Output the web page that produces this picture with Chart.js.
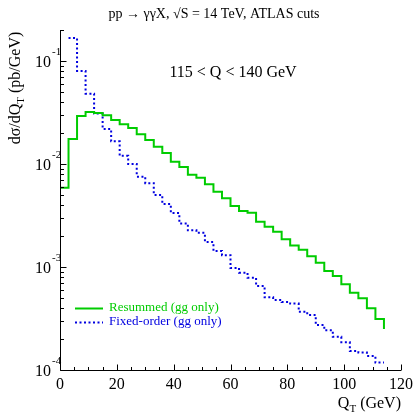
<!DOCTYPE html>
<html>
<head>
<meta charset="utf-8">
<script src="https://cdn.jsdelivr.net/npm/chart.js@4.4.1/dist/chart.umd.min.js"></script>
<style>
  html, body { margin: 0; padding: 0; background: #fff; }
  #wrap { width: 415px; height: 413px; position: relative; }
</style>
</head>
<body>
<div id="wrap"><canvas id="c" width="415" height="413"></canvas></div>
<script>
// ---- data (bin lower edges in GeV; last entry closes the histogram) ----
const binEdges = [0,3,6,9,12,15,18,21,24,27,30,33,36,39,42,45,48,51,54,57,60,63,66,69,72,75,78,81,84,87,90,93,96,99,102,105,108,111,114];
const resummed = [5.89e-3,0.0175,0.0292,0.0320,0.0313,0.0297,0.0267,0.0243,0.0224,0.0194,0.0171,0.0147,0.0128,0.0105,0.00935,0.00787,0.00736,0.00635,0.00538,0.00465,0.00391,0.00350,0.00337,0.00275,0.00246,0.00220,0.00186,0.00162,0.00147,0.00127,0.00110,0.000914,0.000818,0.000679,0.000562,0.000497,0.000397,0.000313,0.000250];
const fixedOrder = [null,0.167,0.080,0.0482,0.0310,0.0219,0.0166,0.0120,0.0100,0.00754,0.00650,0.00500,0.00409,0.00334,0.00265,0.00227,0.00215,0.00175,0.00143,0.00130,0.000977,0.000881,0.000787,0.000655,0.000508,0.000479,0.000457,0.000441,0.000368,0.000342,0.000273,0.000243,0.000210,0.000186,0.000153,0.000148,0.000137,0.000118,0.000118];
const xTickLabels = [0,20,40,60,80,100,120];
const yDecades = [-1,-2,-3,-4];
const seriesNames = ['Resummed (gg only)', 'Fixed-order (gg only)'];
const titleText = 'pp \u2192 \u03b3\u03b3X, \u221aS = 14 TeV, ATLAS cuts';
const rangeText = '115 < Q < 140 GeV';

const GREEN = '#00cc00';
const BLUE = '#0000e0';
const FONT = '"Liberation Serif", "DejaVu Serif", serif';

function toPoints(edges, vals) {
  const pts = [];
  edges.forEach((x, i) => { if (vals[i] !== null) pts.push({x: x, y: vals[i]}); });
  return pts;
}

// histogram: value of bin i holds from edge i to edge i+1, then jumps
function toSteps(edges, vals) {
  const pts = [];
  for (let i = 0; i < edges.length; i++) {
    if (vals[i] === null) continue;
    pts.push({x: edges[i], y: vals[i]});
  }
  return pts;
}

const decor = {
  id: 'decor',
  afterDraw(chart) {
    const ctx = chart.ctx;
    const xs = chart.scales.x, ys = chart.scales.y;
    const ca = chart.chartArea;
    const L = Math.round(ca.left) + 0.5;
    const B = Math.round(ca.bottom) + 0.5;
    ctx.save();
    ctx.strokeStyle = '#000';
    ctx.lineWidth = 1;
    ctx.beginPath();
    ctx.moveTo(L, ca.top); ctx.lineTo(L, B);
    ctx.lineTo(ca.right, B);
    ctx.stroke();
    ctx.beginPath();
    for (let v = 0; v <= 120; v += 5) {
      const px = Math.round(xs.getPixelForValue(v)) + 0.5;
      const len = (v % 20 === 0) ? 6 : 3.5;
      ctx.moveTo(px, B); ctx.lineTo(px, B - len);
    }
    for (let d = -4; d <= -1; d++) {
      for (let m = 1; m <= 9; m++) {
        const v = m * Math.pow(10, d);
        if (v > ys.max * 1.0001 || v < ys.min * 0.9999) continue;
        const py = Math.round(ys.getPixelForValue(v)) + 0.5;
        const len = (m === 1) ? 6 : 3.5;
        ctx.moveTo(L, py); ctx.lineTo(L + len, py);
      }
    }
    ctx.stroke();

    ctx.fillStyle = '#000';
    ctx.font = '16px ' + FONT;
    ctx.textAlign = 'center';
    ctx.textBaseline = 'middle';
    xTickLabels.forEach(v => {
      ctx.fillText(String(v), xs.getPixelForValue(v), 385);
    });
    yDecades.forEach(d => {
      const py = ys.getPixelForValue(Math.pow(10, d));
      ctx.font = '16px ' + FONT;
      ctx.textAlign = 'right';
      ctx.textBaseline = 'middle';
      ctx.fillText('10', 51, py + 2);
      ctx.font = '11px ' + FONT;
      ctx.textAlign = 'left';
      ctx.fillText(String(d), 52, py - 9);
    });
    ctx.textBaseline = 'alphabetic';
    ctx.textAlign = 'left';
    let parts = [['Q', 16, 0], ['T', 11, 4], [' (GeV)', 16, 0]];
    let total = 0;
    parts.forEach(p => { ctx.font = p[1] + 'px ' + FONT; total += ctx.measureText(p[0]).width; });
    let x0 = 401 - total;
    parts.forEach(p => { ctx.font = p[1] + 'px ' + FONT; ctx.fillText(p[0], x0, 408 + p[2]); x0 += ctx.measureText(p[0]).width; });
    ctx.save();
    ctx.translate(20, 88);
    ctx.rotate(-Math.PI / 2);
    parts = [['d\u03c3/dQ', 16, 0], ['T', 11, 4], [' (pb/GeV)', 16, 0]];
    total = 0;
    parts.forEach(p => { ctx.font = p[1] + 'px ' + FONT; total += ctx.measureText(p[0]).width; });
    x0 = -total / 2;
    parts.forEach(p => { ctx.font = p[1] + 'px ' + FONT; ctx.fillText(p[0], x0, 0 + p[2]); x0 += ctx.measureText(p[0]).width; });
    ctx.restore();
    ctx.font = '14px ' + FONT;
    ctx.textAlign = 'center';
    ctx.textBaseline = 'middle';
    ctx.fillText(titleText, 214, 14);
    ctx.font = '16px ' + FONT;
    ctx.fillText(rangeText, 233, 73);
    const ds = chart.data.datasets;
    const ly = [308.5, 322.5];
    ds.forEach((d, i) => {
      ctx.strokeStyle = d.borderColor;
      ctx.lineWidth = d.borderWidth;
      ctx.setLineDash(d.borderDash || []);
      ctx.beginPath();
      ctx.moveTo(75, ly[i]); ctx.lineTo(103, ly[i]);
      ctx.stroke();
      ctx.setLineDash([]);
      ctx.fillStyle = d.borderColor;
      ctx.font = '13px ' + FONT;
      ctx.textAlign = 'left';
      ctx.textBaseline = 'middle';
      ctx.fillText(d.label, 109, ly[i] - 1);
    });
    ctx.restore();
  }
};

new Chart(document.getElementById('c'), {
  type: 'line',
  data: {
    datasets: [
      {
        label: seriesNames[0],
        data: toSteps(binEdges, resummed),
        borderColor: GREEN,
        borderWidth: 2,
        stepped: 'before',
        pointRadius: 0,
        fill: false
      },
      {
        label: seriesNames[1],
        data: toSteps(binEdges, fixedOrder),
        borderColor: BLUE,
        borderWidth: 2,
        borderDash: [2, 2.5],
        stepped: 'before',
        pointRadius: 0,
        fill: false
      }
    ]
  },
  options: {
    responsive: false,
    animation: false,
    events: [],
    layout: { padding: { left: 0, right: 14, top: 30, bottom: 0 } },
    plugins: { legend: { display: false }, title: { display: false }, tooltip: { enabled: false } },
    scales: {
      x: {
        type: 'linear', min: 0, max: 120,
        grid: { display: false, drawTicks: false },
        border: { display: false },
        ticks: { display: false },
        afterFit(s) { s.height = 43; }
      },
      y: {
        type: 'logarithmic', min: 1e-4, max: 0.2,
        grid: { display: false, drawTicks: false },
        border: { display: false },
        ticks: { display: false },
        afterFit(s) { s.width = 60; }
      }
    }
  },
  plugins: [decor]
});
</script>
</body>
</html>
